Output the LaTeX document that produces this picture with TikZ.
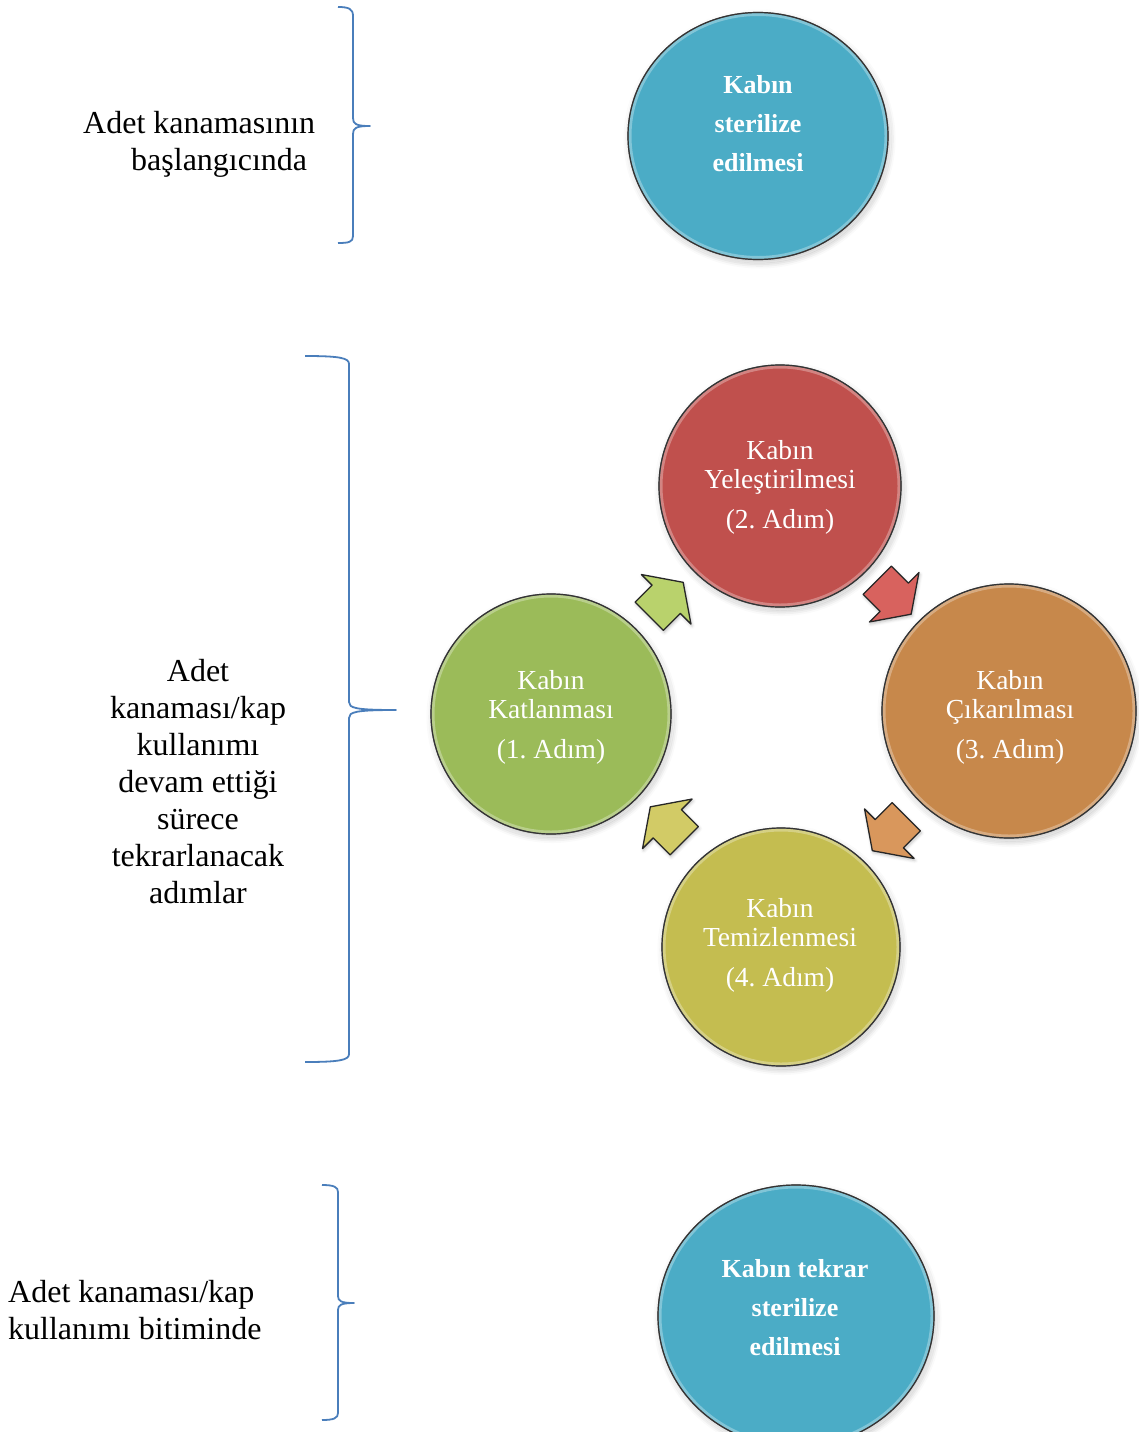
\documentclass[tikz,border=0pt]{standalone}
\usepackage{fontspec}
\setmainfont{Liberation Serif}
\frenchspacing
\usetikzlibrary{shapes.geometric,calc,shadows.blur}
\definecolor{cblue}{HTML}{4BACC6}
\definecolor{cred}{HTML}{C0504D}
\definecolor{cgreen}{HTML}{9BBB59}
\definecolor{corange}{HTML}{C7884B}
\definecolor{cyellow}{HTML}{C4BD50}
\definecolor{agreen}{HTML}{B9D26C}
\definecolor{ared}{HTML}{D8625E}
\definecolor{aorange}{HTML}{D9975C}
\definecolor{ayellow}{HTML}{D2CB66}
\definecolor{braceblue}{HTML}{4A7EBB}
\begin{document}
\begin{tikzpicture}[x=1pt,y=-1pt,
  ball/.style={inner sep=0pt, fill=#1, draw=black!80, line width=1.2pt,
    blur shadow={shadow xshift=1.5pt, shadow yshift=-3pt, shadow blur radius=6pt, shadow opacity=30},
    postaction={draw=white, draw opacity=0.3, line width=7pt},
    postaction={draw=black!80, line width=1.2pt}},
  ctext/.style={align=center, text=white, inner sep=0pt, font=\fontsize{27.5}{29}\selectfont},
  btext/.style={align=center, text=white, inner sep=0pt, font=\bfseries\fontsize{26}{39}\selectfont},
  ltext/.style={inner sep=0pt, font=\fontsize{32}{37}\selectfont},
  bracepath/.style={draw=braceblue, line width=1.8pt, line join=round},
  blockarrow/.style={draw=black!85, line width=1.3pt, line join=round, fill=#1,
    blur shadow={shadow xshift=1pt, shadow yshift=-2pt, shadow blur radius=3pt, shadow opacity=25}}
]
\useasboundingbox (0,0) rectangle (1138,1432);

% top sterilisation
\node[ball=cblue, ellipse, minimum width=260pt, minimum height=247pt] (s1) at (758,136) {};
\node[btext] (s1t) at (758,124) {Kabın\\sterilize\\edilmesi};

% cycle circles
\node[ball=cgreen, circle, minimum size=240pt] (c1) at (551,714) {};
\node[ball=cred, circle, minimum size=242pt] (c2) at (780,486) {};
\node[ball=corange, circle, minimum size=254pt] (c3) at (1009,711) {};
\node[ball=cyellow, circle, minimum size=238pt] (c4) at (781,947) {};

\node[ctext] (c1t) at (551,717) {Kabın\\Katlanması\\[11pt](1. Adım)};
\node[ctext] (c2t) at (780,487) {Kabın\\Yeleştirilmesi\\[11pt](2. Adım)};
\node[ctext] (c3t) at (1010,717) {Kabın\\Çıkarılması\\[11pt](3. Adım)};
\node[ctext] (c4t) at (780,945) {Kabın\\Temizlenmesi\\[11pt](4. Adım)};

% block arrows between the steps
\path[blockarrow=agreen, shift={($(c1)!0.5!(c2)$)}, rotate=45]
  (-23,-20) -- (1,-20) -- (1,-35) -- (25,0) -- (1,35) -- (1,20) -- (-23,20) -- cycle;
\path[blockarrow=ared, shift={($(c2)!0.5!(c3)+(-1,-2)$)}, rotate=-45]
  (-23,-20) -- (1,-20) -- (1,-35) -- (25,0) -- (1,35) -- (1,20) -- (-23,20) -- cycle;
\path[blockarrow=aorange, shift={($(c3)!0.5!(c4)+(-5,4)$)}, rotate=-135]
  (-23,-20) -- (1,-20) -- (1,-35) -- (25,0) -- (1,35) -- (1,20) -- (-23,20) -- cycle;
\path[blockarrow=ayellow, shift={($(c4)!0.5!(c1)+(2,-6)$)}, rotate=135]
  (-23,-20) -- (1,-20) -- (1,-35) -- (25,0) -- (1,35) -- (1,20) -- (-23,20) -- cycle;

% bottom sterilisation
\node[ball=cblue, ellipse, minimum width=276pt, minimum height=262pt] (s2) at (796,1316) {};
\node[btext] (s2t) at (795,1308) {Kabın tekrar\\sterilize\\edilmesi};

% left labels
\node[ltext, align=left, anchor=west] (l1) at (83,144) {Adet kanamasının\\\hspace*{48pt}başlangıcında};
\node[ltext, align=center] (l2) at (198,782) {Adet\\kanaması/kap\\kullanımı\\devam ettiği\\sürece\\tekrarlanacak\\adımlar};
\node[ltext, align=left, anchor=west] (l3) at (8,1310) {Adet kanaması/kap\\kullanımı bitiminde};

% braces
\path[bracepath] (338,7) .. controls (349,7) and (353,9) .. (353,16) -- (353,118)
  .. controls (353,124) and (356,126) .. (370,126)
  .. controls (356,126) and (353,128) .. (353,134) -- (353,236)
  .. controls (353,242) and (349,243) .. (338,243);
\path[bracepath] (305,356) .. controls (340,356) and (349,358) .. (349,364) -- (349,702)
  .. controls (349,708) and (355,710) .. (396,710)
  .. controls (355,710) and (349,712) .. (349,718) -- (349,1054)
  .. controls (349,1060) and (340,1062) .. (305,1062);
\path[bracepath] (322,1185) .. controls (334,1185) and (338,1187) .. (338,1192) -- (338,1296)
  .. controls (338,1301) and (341,1303) .. (354,1303)
  .. controls (341,1303) and (338,1305) .. (338,1310) -- (338,1413)
  .. controls (338,1418) and (334,1420) .. (322,1420);
\end{tikzpicture}
\end{document}
